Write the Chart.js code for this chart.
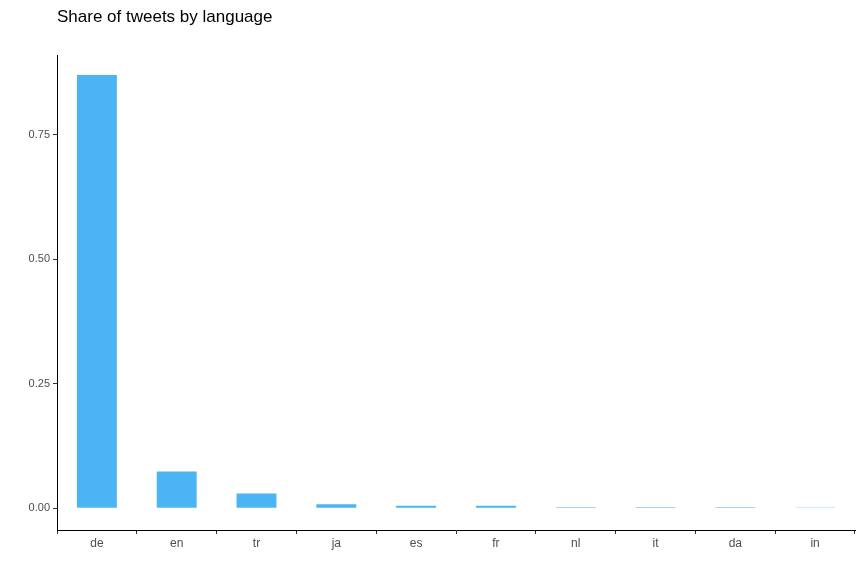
<!DOCTYPE html>
<html>
<head>
<script src="https://cdn.jsdelivr.net/npm/chart.js@4"></script>
<style>body{margin:0;background:#fff}#wrap{width:864px;height:576px}</style>
</head>
<body>
<div id="wrap"><canvas id="chart"></canvas></div>
<script>
const languages = ["de", "en", "tr", "ja", "es", "fr", "nl", "it", "da", "in"];
const shares = [0.870, 0.074, 0.030, 0.008, 0.005, 0.005, 0.002, 0.002, 0.002, 0.0005];
const yTicks = [0, 0.25, 0.5, 0.75];

//Title drawn at the left edge of the panel, like ggplot
const titlePlugin = {
    id: "leftTitle",
    afterDraw(c) {
        const ctx = c.ctx;
        ctx.save();
        ctx.font = "17px 'Liberation Sans', Arial, sans-serif";
        ctx.fillStyle = "#000";
        ctx.textBaseline = "middle";
        ctx.fillText("Share of tweets by language", 57, 17);
        ctx.restore();
    }
};

new Chart(document.querySelector("#chart"), {
    type: "bar",
    data: {
        labels: languages,
        datasets: [{
            data: shares,
            backgroundColor: "#4ab4f5",
            barPercentage: 0.5,
            categoryPercentage: 1
        }]
    },
    options: {
        responsive: true,
        maintainAspectRatio: false,
        animation: false,
        layout: { padding: { top: 55, right: 9, left: 0, bottom: 0 } },
        plugins: { legend: { display: false }, tooltip: { enabled: false } },
        scales: {
            x: {
                afterFit: s => { s.height = 46; },
                grid: { drawOnChartArea: false, tickLength: 4, color: "#333" },
                border: { color: "#000", width: 1 },
                ticks: { color: "#4d4d4d", font: { size: 12, family: "'Liberation Sans', Arial" }, padding: 2 }
            },
            y: {
                min: -0.0435,
                max: 0.91,
                afterFit: s => { s.width = 57; },
                afterBuildTicks: s => { s.ticks = yTicks.map(v => ({ value: v })); },
                grid: { drawOnChartArea: false, tickLength: 4, color: "#333" },
                border: { color: "#000", width: 1 },
                ticks: {
                    color: "#4d4d4d",
                    font: { size: 11, family: "'Liberation Sans', Arial" },
                    padding: 3,
                    callback: v => v.toFixed(2)
                }
            }
        }
    },
    plugins: [titlePlugin]
});
</script>
</body>
</html>
